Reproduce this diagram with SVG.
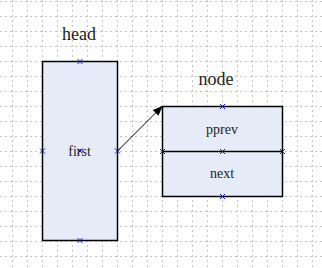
<svg xmlns="http://www.w3.org/2000/svg" width="322" height="268" viewBox="0 0 322 268">
<style>
.grid line{stroke:#c4c4c4;stroke-width:1;stroke-dasharray:2,3}
.box{fill:#e6ecf7;stroke:#000;stroke-width:1.5}
.lbl{font-family:"Liberation Serif","Times New Roman",serif;fill:#222}
.big{font-size:18px}
.sm{font-size:14px}
.pt{stroke:#1010e0;stroke-width:1;fill:none}
</style>
<defs>
<path id="x" d="M-2.5,-2.5L2.5,2.5M-2.5,2.5L2.5,-2.5" class="pt"/>
<marker id="ah" markerWidth="10" markerHeight="8" refX="9" refY="4" orient="auto" markerUnits="userSpaceOnUse">
<path d="M0,0L10,4L0,8z" fill="#000"/>
</marker>
</defs>
<rect width="322" height="268" fill="#fff"/>
<g class="grid">
<line x1="12.5" y1="0" x2="12.5" y2="268"/><line x1="27.5" y1="0" x2="27.5" y2="268"/><line x1="42.5" y1="0" x2="42.5" y2="268"/><line x1="57.5" y1="0" x2="57.5" y2="268"/><line x1="72.5" y1="0" x2="72.5" y2="268"/><line x1="87.5" y1="0" x2="87.5" y2="268"/><line x1="102.5" y1="0" x2="102.5" y2="268"/><line x1="117.5" y1="0" x2="117.5" y2="268"/><line x1="132.5" y1="0" x2="132.5" y2="268"/><line x1="147.5" y1="0" x2="147.5" y2="268"/><line x1="162.5" y1="0" x2="162.5" y2="268"/><line x1="177.5" y1="0" x2="177.5" y2="268"/><line x1="192.5" y1="0" x2="192.5" y2="268"/><line x1="207.5" y1="0" x2="207.5" y2="268"/><line x1="222.5" y1="0" x2="222.5" y2="268"/><line x1="237.5" y1="0" x2="237.5" y2="268"/><line x1="252.5" y1="0" x2="252.5" y2="268"/><line x1="267.5" y1="0" x2="267.5" y2="268"/><line x1="282.5" y1="0" x2="282.5" y2="268"/><line x1="297.5" y1="0" x2="297.5" y2="268"/><line x1="312.5" y1="0" x2="312.5" y2="268"/>
<line x1="0" y1="1.5" x2="322" y2="1.5"/><line x1="0" y1="16.5" x2="322" y2="16.5"/><line x1="0" y1="31.5" x2="322" y2="31.5"/><line x1="0" y1="46.5" x2="322" y2="46.5"/><line x1="0" y1="61.5" x2="322" y2="61.5"/><line x1="0" y1="76.5" x2="322" y2="76.5"/><line x1="0" y1="91.5" x2="322" y2="91.5"/><line x1="0" y1="106.5" x2="322" y2="106.5"/><line x1="0" y1="121.5" x2="322" y2="121.5"/><line x1="0" y1="136.5" x2="322" y2="136.5"/><line x1="0" y1="151.5" x2="322" y2="151.5"/><line x1="0" y1="166.5" x2="322" y2="166.5"/><line x1="0" y1="181.5" x2="322" y2="181.5"/><line x1="0" y1="196.5" x2="322" y2="196.5"/><line x1="0" y1="211.5" x2="322" y2="211.5"/><line x1="0" y1="226.5" x2="322" y2="226.5"/><line x1="0" y1="241.5" x2="322" y2="241.5"/><line x1="0" y1="256.5" x2="322" y2="256.5"/>
</g>
<text class="lbl big" x="79" y="40" text-anchor="middle">head</text>
<text class="lbl big" x="216" y="85" text-anchor="middle">node</text>
<g id="head">
<rect class="box" x="42.5" y="61.5" width="75" height="179"/>
<text class="lbl sm" x="79.5" y="156" text-anchor="middle">first</text>
<use href="#x" x="80" y="61.5"/><use href="#x" x="42.5" y="151"/><use href="#x" x="117.5" y="151"/><use href="#x" x="80" y="151"/><use href="#x" x="80" y="240.5"/>
</g>
<g id="node">
<rect class="box" x="162.5" y="106.5" width="120" height="90"/>
<line x1="162.5" y1="151.5" x2="282.5" y2="151.5" stroke="#000" stroke-width="1.5"/>
<text class="lbl sm" x="222" y="134" text-anchor="middle">pprev</text>
<text class="lbl sm" x="222" y="178" text-anchor="middle">next</text>
<use href="#x" x="222.5" y="106.5"/><use href="#x" x="162.5" y="151.5"/><use href="#x" x="222.5" y="151.5"/><use href="#x" x="282.5" y="151.5"/><use href="#x" x="222.5" y="196.5"/>
</g>
<g id="connectors">
<line x1="117.5" y1="151" x2="162" y2="106.5" stroke="#000" stroke-width="1" marker-end="url(#ah)"/>
</g>
</svg>
